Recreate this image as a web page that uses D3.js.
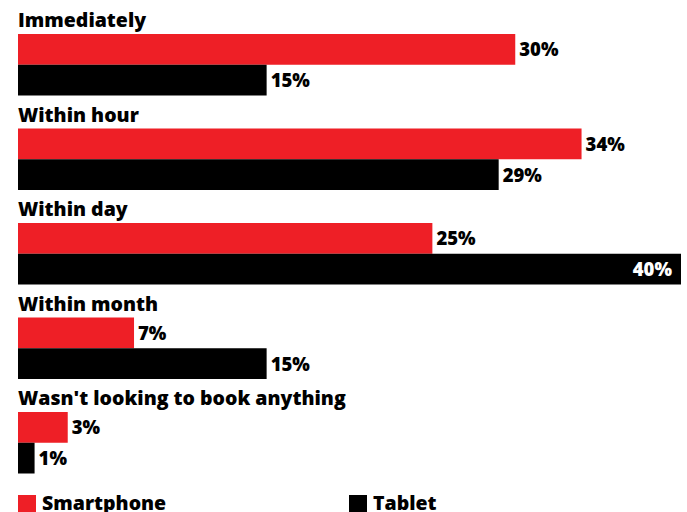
<!DOCTYPE html>
<html><head><meta charset="utf-8">
<script src="https://cdn.jsdelivr.net/npm/d3@7"></script>
<style>
html,body{margin:0;padding:0;background:#fff;}
text{font-family:"Open Sans","DejaVu Sans",sans-serif;font-weight:800;}
</style></head>
<body><svg id="c" width="687" height="512"></svg>
<script>
const categories = ["Immediately","Within hour","Within day","Within month","Wasn't looking to book anything"];
const seriesNames = ["Smartphone","Tablet"];
const smartphone = [30,34,25,7,3];
const tablet = [15,29,40,15,1];
const colors = ["#ee1f26","#000000"];

const svg = d3.select("#c");
const x = d3.scaleLinear().domain([0,40]).range([18,681]);
const y = d3.scaleBand().domain(categories).range([34,34+5*94.5]).paddingInner(0);
const ys = d3.scaleBand().domain(seriesNames).range([0,61.5]);
const vals = [smartphone, tablet];

const g = svg.selectAll("g.cat").data(categories).join("g")
  .attr("transform", d => `translate(0,${y(d)})`);
g.append("text").attr("x",18).attr("y",-7).attr("font-size",19.5).attr("fill","#000").text(d=>d);

seriesNames.forEach((s,si)=>{
  g.append("rect")
    .attr("x", x(0))
    .attr("y", ys(s))
    .attr("width", (d,i)=> x(vals[si][i]) - x(0))
    .attr("height", ys.bandwidth())
    .attr("fill", colors[si]);
  g.append("text")
    .attr("font-size",18.5)
    .attr("y", ys(s)+ys.bandwidth()/2+7)
    .attr("x", (d,i)=> vals[si][i] >= 38 ? x(vals[si][i]) - 9 : x(vals[si][i]) + 4)
    .attr("text-anchor", (d,i)=> vals[si][i] >= 38 ? "end" : "start")
    .attr("fill", (d,i)=> vals[si][i] >= 38 ? "#fff" : "#000")
    .text((d,i)=> vals[si][i] + "%");
});

const legX = [18,349];
const lg = svg.selectAll("g.leg").data(seriesNames).join("g")
  .attr("transform",(d,i)=>`translate(${legX[i]},495)`);
lg.append("rect").attr("width",18).attr("height",18).attr("fill",(d,i)=>colors[i]);
lg.append("text").attr("x",24).attr("y",14.5).attr("font-size",19.5).attr("fill","#000").text(d=>d);
</script></body></html>
